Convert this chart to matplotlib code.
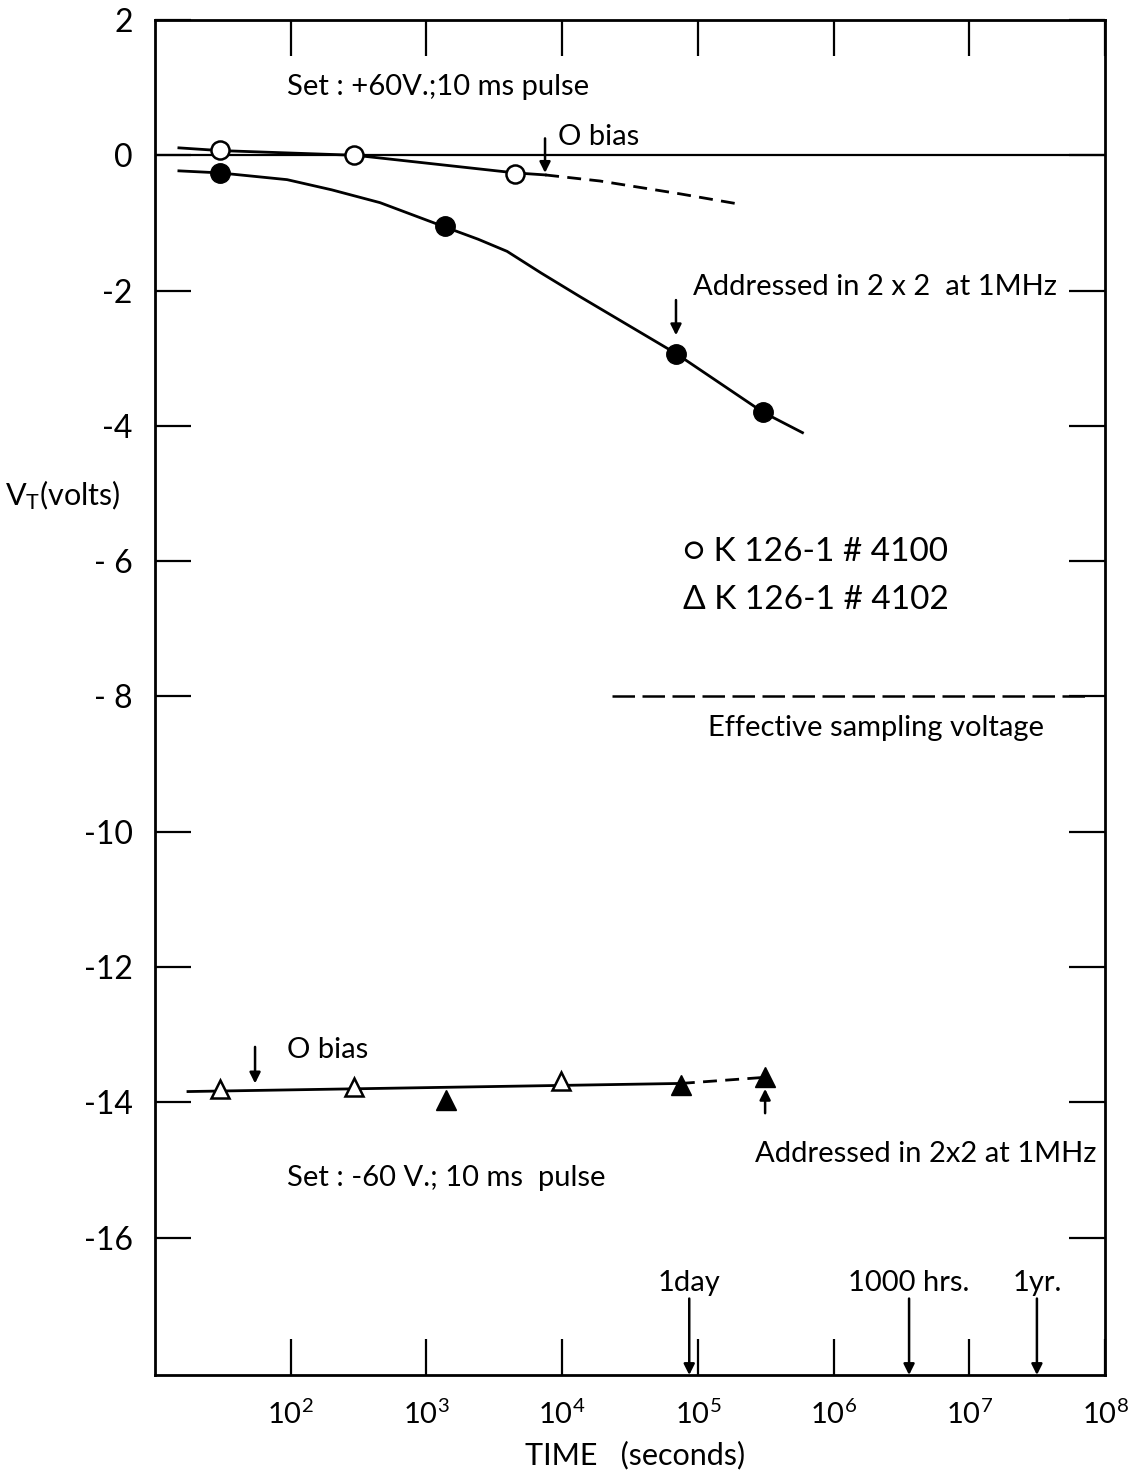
import matplotlib
matplotlib.use('Agg')
import matplotlib.pyplot as plt
from matplotlib.ticker import FixedLocator, NullLocator, FixedFormatter

plt.rcParams['font.family'] = ['Lato', 'DejaVu Sans']
plt.rcParams['mathtext.fontset'] = 'custom'
plt.rcParams['mathtext.rm'] = 'Lato'
plt.rcParams['mathtext.it'] = 'Lato'

# ---------------- data ----------------
open_circ_t = [30, 295, 4460]
open_circ_v = [0.08, 0.0, -0.27]
fill_circ_t = [30, 1370, 69000, 303000]
fill_circ_v = [-0.26, -1.05, -2.93, -3.80]
open_tri_t = [30, 295, 9800]
open_tri_v = [-13.80, -13.78, -13.69]
fill_tri_t = [1400, 75000, 310000]
fill_tri_v = [-13.96, -13.75, -13.63]

# hand-drawn curves
c_open_solid_t = [15, 30, 300, 4500, 7500]
c_open_solid_v = [0.11, 0.07, 0.0, -0.26, -0.29]
c_open_dash_t = [7500, 19000, 74000, 213000]
c_open_dash_v = [-0.29, -0.38, -0.57, -0.73]
c_fill_t = [15, 30, 94, 200, 455, 1370, 2400, 3930, 7000, 13550, 69000, 303000, 590000]
c_fill_v = [-0.23, -0.26, -0.36, -0.51, -0.70, -1.06, -1.24, -1.42, -1.74, -2.09, -2.93, -3.80, -4.10]
c_tri_solid_t = [17.5, 75000]
c_tri_solid_v = [-13.84, -13.72]
c_tri_dash_t = [75000, 310000]
c_tri_dash_v = [-13.72, -13.63]

sampling_t = [23400, 7.76e7]
sampling_v = [-8, -8]

marker_times = [86400, 3.6e6, 3.15e7]
marker_labels = ['1day', '1000 hrs.', '1yr.']

x_ticks = [1e2, 1e3, 1e4, 1e5, 1e6, 1e7, 1e8]
x_tick_labels = [r'$10^{2}$', r'$10^{3}$', r'$10^{4}$', r'$10^{5}$',
                 r'$10^{6}$', r'$10^{7}$', r'$10^{8}$']
y_ticks = [2, 0, -2, -4, -6, -8, -10, -12, -14, -16]
y_tick_labels = ['2', '0', '-2', '-4', '- 6', '- 8', '-10', '-12', '-14', '-16']

# ---------------- figure ----------------
W, H = 1135, 1472
fig = plt.figure(figsize=(W / 100, H / 100), dpi=100)
ax = fig.add_axes([155 / W, 1 - 1375 / H, (1105 - 155) / W, (1375 - 20) / H])
ax.set_xscale('log')
ax.set_xlim(10, 1e8)
ax.set_ylim(-18.03, 2)

for s in ax.spines.values():
    s.set_linewidth(2.0)

ax.xaxis.set_major_locator(FixedLocator(x_ticks))
ax.xaxis.set_major_formatter(FixedFormatter(x_tick_labels))
ax.xaxis.set_minor_locator(NullLocator())
ax.yaxis.set_major_locator(FixedLocator(y_ticks))
ax.yaxis.set_major_formatter(FixedFormatter(y_tick_labels))
ax.tick_params(axis='both', which='major', direction='in', length=26, width=1.6,
               top=True, right=True)
ax.tick_params(axis='x', pad=18, labelsize=21)
ax.tick_params(axis='y', pad=16, labelsize=23)

lw = 2.0
# zero line
ax.axhline(0, color='black', lw=1.6)

# curves
ax.plot(c_open_solid_t, c_open_solid_v, color='black', lw=lw)
ax.plot(c_open_dash_t, c_open_dash_v, color='black', lw=lw, dashes=(5, 3))
ax.plot(c_fill_t, c_fill_v, color='black', lw=lw)
ax.plot(c_tri_solid_t, c_tri_solid_v, color='black', lw=lw)
ax.plot(c_tri_dash_t, c_tri_dash_v, color='black', lw=lw, dashes=(5, 3))
ax.plot(sampling_t, sampling_v, color='black', lw=1.8, dashes=(9, 3))

# markers
ax.plot(open_circ_t, open_circ_v, 'o', ms=13, mfc='white', mec='black', mew=1.8, zorder=5)
ax.plot(fill_circ_t, fill_circ_v, 'o', ms=14, mfc='black', mec='black', zorder=5)
ax.plot(open_tri_t, open_tri_v, '^', ms=13, mfc='white', mec='black', mew=1.8, zorder=5)
ax.plot(fill_tri_t, fill_tri_v, '^', ms=14, mfc='black', mec='black', zorder=5)

fs = 21
arrow = dict(arrowstyle='-|>', color='black', lw=1.8, mutation_scale=16, shrinkA=0, shrinkB=0)

ax.text(94, 1.01, 'Set : +60V.;10 ms pulse', fontsize=fs, ha='left', va='center')
ax.text(9330, 0.27, 'O bias', fontsize=fs, ha='left', va='center')
ax.annotate('', xy=(7480, -0.26), xytext=(7480, 0.25), arrowprops=arrow)
ax.text(92200, -1.94, 'Addressed in 2 x 2  at 1MHz', fontsize=fs, ha='left', va='center')
ax.annotate('', xy=(69000, -2.66), xytext=(69000, -2.14), arrowprops=arrow)

ax.text(77600, -5.87, '○ K 126-1 # 4100', fontsize=fs + 3, ha='left', va='center')
ax.text(77600, -6.58, 'Δ K 126-1 # 4102', fontsize=fs + 3, ha='left', va='center')
ax.text(119000, -8.46, 'Effective sampling voltage', fontsize=fs, ha='left', va='center')

ax.text(94, -13.23, 'O bias', fontsize=fs, ha='left', va='center')
ax.annotate('', xy=(54.6, -13.72), xytext=(54.6, -13.18), arrowprops=arrow)
ax.text(94, -15.12, 'Set : -60 V.; 10 ms  pulse', fontsize=fs, ha='left', va='center')
ax.text(264000, -14.77, 'Addressed in 2x2 at 1MHz', fontsize=fs, ha='left', va='center')
ax.annotate('', xy=(313000, -13.80), xytext=(313000, -14.16), arrowprops=arrow)

for t, lab in zip(marker_times, marker_labels):
    ax.text(t, -16.67, lab, fontsize=fs, ha='center', va='center')
    ax.annotate('', xy=(t, -18.03), xytext=(t, -16.9), arrowprops=arrow)

fig.text(5 / W, 1 - 495 / H, r'V$_{T}$(volts)', fontsize=fs + 1, ha='left', va='center')
fig.text(635 / W, 1 - 1455 / H, 'TIME   (seconds)', fontsize=fs + 1, ha='center', va='center')

fig.savefig('out.png', dpi=100)
